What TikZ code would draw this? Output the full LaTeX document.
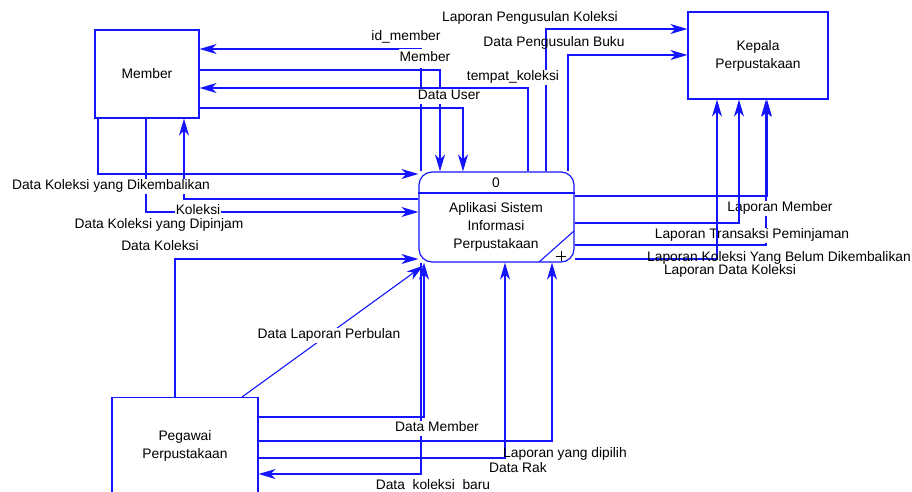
\documentclass[tikz,border=0pt]{standalone}
\usepackage{fontspec}
\setmainfont{Liberation Sans}
\usetikzlibrary{arrows.meta}
\definecolor{flowblue}{RGB}{20,20,255}
\begin{document}
\begin{tikzpicture}[x=1pt,y=-1pt,
  font=\fontsize{13.8}{18}\selectfont,
  box/.style={draw=flowblue, line width=1.2pt, fill=white, inner sep=0pt},
  flow/.style={draw=flowblue, line width=1.1pt},
  arr/.style={flow, -{Stealth[length=17pt,width=10pt,inset=5pt]}},
  lbl/.style={fill=white, inner xsep=1pt, inner ysep=1pt, text height=10pt, text depth=3pt},
  lbln/.style={inner xsep=1pt, inner ysep=1pt, text height=10pt, text depth=3pt}]
\useasboundingbox (0,0) rectangle (912,491);

% entities and process
\node[box, minimum width=104pt, minimum height=88pt] (member) at (147,74) {Member};
\node[box, minimum width=140pt, minimum height=87pt, align=center] (kepala) at (758,55.5) {Kepala\\Perpustakaan};
\node[box, minimum width=146pt, minimum height=200pt, anchor=north] (peg) at (185,397) {};
\node[align=center] (pegtxt) at (185,446) {Pegawai\\Perpustakaan};
\node[box, rounded corners=13pt, minimum width=155pt, minimum height=90pt] (proc) at (496.5,217) {};
\draw[flow, line width=1.2pt] (proc.west |- 0,193) -- (proc.east |- 0,193);
\node (procid) at (496,183) {0};
\node[align=center] (proctxt) at (496,227) {Aplikasi Sistem\\Informasi\\Perpustakaan};
\draw[flow] (539,262) -- (574,231);
\draw[line width=0.8pt] (556,256) -- (566,256) (561,251) -- (561,261);

% Member flows
\draw[arr] (proc.north -| 421,0) |- (member.east |- 0,49);
\draw[arr] (member.east |- 0,70) -| (proc.north -| 440,0);
\draw[arr] (proc.north -| 528,0) |- (member.east |- 0,88);
\draw[arr] (member.east |- 0,108) -| (proc.north -| 463,0);
\draw[arr] (member.south -| 98,0) |- (proc.west |- 0,174);
\draw[arr] (member.south -| 146,0) |- (proc.west |- 0,212);
\draw[arr] (proc.west |- 0,199) -| (member.south -| 184,0);

% Kepala flows
\draw[arr] (proc.north -| 546,0) |- (kepala.west |- 0,29);
\draw[arr] (proc.north -| 568,0) |- (kepala.west |- 0,55);
\draw[arr] (proc.east |- 0,196) -| (kepala.south -| 767,0);
\draw[arr] (proc.east |- 0,245) -| (kepala.south -| 766,0);

% Pegawai flows
\draw[arr] (peg.north -| 175,0) |- (proc.west |- 0,259);
\draw[arr] (peg.north -| 242,0) -- ([shift={(5,3)}]proc.south west);
\draw[arr] (peg.east |- 0,417) -| (proc.south -| 424,0);
\draw[arr] (peg.east |- 0,441) -| (proc.south -| 552,0);
\draw[arr] (peg.east |- 0,458) -| (proc.south -| 505,0);
\draw[arr] (proc.south -| 421,0) |- (peg.east |- 0,474);

% labels
\node[lbl] (l1) at (406,37) {id\_member};
\node[lbl, minimum height=19pt] (l2) at (425,58) {Member};
\node[lbl] (l3) at (449,96) {Data User};
\node[lbl] (l4) at (513,77) {tempat\_koleksi};
\node[lbl] (l5) at (530,18) {Laporan Pengusulan Koleksi};
\node[lbln] (l6) at (554,43) {Data Pengusulan Buku};
\node[lbl] (l7) at (111,186) {Data Koleksi yang Dikembalikan};
\node[lbl] (l8) at (198,211) {Koleksi};
\node[lbl] (l9) at (159,225) {Data Koleksi yang Dipinjam};
\node[lbl] (l10) at (160,247) {Data Koleksi};
\node[lbl] (l11) at (329,335) {Data Laporan Perbulan};
\node[lbl] (l12) at (437,428) {Data Member};
\node[lbln] (l13) at (565,454) {Laporan yang dipilih};
\node[lbl] (l14) at (518,469) {Data Rak};
\node[lbl] (l15) at (433,486) {Data\ \ koleksi\ \ baru};
\node[lbl] (l16) at (780,208) {Laporan Member};
\node[lbl] (l17) at (752,235) {Laporan Transaksi Peminjaman};
\node[lbl] (l19) at (730,271) {Laporan Data Koleksi};

% flows drawn over labels
\draw[arr] (proc.east |- 0,223) -| (kepala.south -| 739,0);
\draw[arr] (proc.east |- 0,259) -| (kepala.south -| 717,0);
\node[lbln] (l18) at (779,258) {Laporan Koleksi Yang Belum Dikembalikan};
\end{tikzpicture}
\end{document}
